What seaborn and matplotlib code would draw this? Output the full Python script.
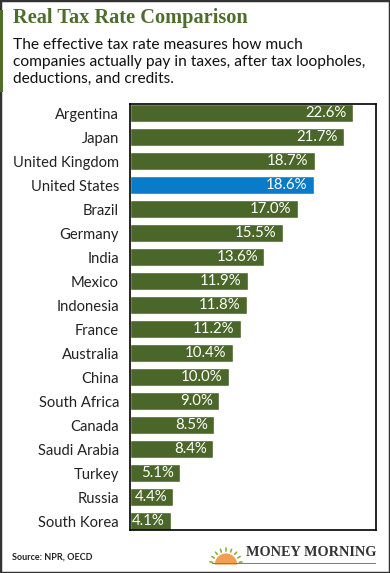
import matplotlib
matplotlib.use("Agg")
import matplotlib.pyplot as plt
import seaborn as sns
import pandas as pd
import numpy as np
from matplotlib.patches import Rectangle, Wedge

countries = ["Argentina", "Japan", "United Kingdom", "United States", "Brazil",
             "Germany", "India", "Mexico", "Indonesia", "France", "Australia",
             "China", "South Africa", "Canada", "Saudi Arabia", "Turkey",
             "Russia", "South Korea"]
rates = [22.6, 21.7, 18.7, 18.6, 17.0, 15.5, 13.6, 11.9, 11.8, 11.2, 10.4,
         10.0, 9.0, 8.5, 8.4, 5.1, 4.4, 4.1]
highlight = "United States"

GREEN = "#4a6628"
BLUE = "#0a7bc9"
TITLE_GREEN = "#4e6e2c"

df = pd.DataFrame({"country": countries, "rate": rates})
palette = {c: (BLUE if c == highlight else GREEN) for c in countries}

sns.set_style("white")
plt.rcParams["font.family"] = ["Lato", "DejaVu Sans"]

fig = plt.figure(figsize=(3.9, 5.73), dpi=100)
ax = fig.add_axes([130/390, 1 - 530/573, 246/390, 426/573])

sns.barplot(data=df, x="rate", y="country", hue="country", palette=palette,
            orient="h", width=0.74, legend=False, ax=ax, saturation=1)

ax.set_xlim(0, 24.9)
ax.set_ylim(17.37, -0.39)
ax.set_xlabel("")
ax.set_ylabel("")
ax.set_xticks([])
ax.tick_params(axis="y", length=0, pad=8, labelsize=10.6, labelcolor="#222222")
for s in ax.spines.values():
    s.set_visible(True)
    s.set_color("black")
    s.set_linewidth(1.2)

for i, v in enumerate(rates):
    ax.annotate(f"{v:.1f}%", xy=(v, i), xytext=(-4.5, 0), textcoords="offset points",
                ha="right", va="center", color="white", fontsize=10.8)

# Figure frame
fig.patches.append(Rectangle((0, 0), 1, 1, transform=fig.transFigure, fill=False,
                             edgecolor="#333333", linewidth=2.5))
# left green accent bar
fig.patches.append(Rectangle((0, 1 - 92/573), 3/390, 82/573, transform=fig.transFigure,
                             facecolor=TITLE_GREEN, edgecolor="none"))

fig.text(13/390, 1 - 18/573, "Real Tax Rate Comparison", family="Liberation Serif",
         fontweight="bold", fontsize=14.7, color=TITLE_GREEN, va="center", ha="left")
fig.text(13/390, 1 - 38/573,
         "The effective tax rate measures how much\ncompanies actually pay in taxes, after tax loopholes,\ndeductions, and credits.",
         fontsize=11.2, color="#111111", va="top", ha="left", linespacing=1.25)

fig.text(12/390, 1 - 557/573, "Source: NPR, OECD", fontsize=6.5, color="#222222",
         va="center", ha="left", fontweight="bold")

# Money Morning logo
fig.text(376/390, 1 - 553/573, "MONEY MORNING", family="Liberation Serif",
         fontweight="bold", fontsize=10.3, color="#333333", ha="right", va="center")
fig.patches.append(Rectangle((212/390, 1 - 564/573), 164/390, 1.5/573,
                             transform=fig.transFigure, facecolor="#6a9a2a", edgecolor="none"))
sun_ax = fig.add_axes([208/390, 1 - 565/573, 36/390, 22/573])
sun_ax.set_xlim(-1.6, 1.6)
sun_ax.set_ylim(0, 1.9)
sun_ax.set_aspect("equal")
sun_ax.axis("off")
sun_ax.add_patch(Wedge((0, 0), 1.0, 0, 180, facecolor="#f0a050", edgecolor="none"))
for a in np.linspace(10, 170, 9):
    r = np.deg2rad(a)
    sun_ax.plot([1.2*np.cos(r), 1.45*np.cos(r)], [1.2*np.sin(r), 1.45*np.sin(r)],
                color="#8ab040", lw=1.2)

fig.savefig("out.png", dpi=100)
